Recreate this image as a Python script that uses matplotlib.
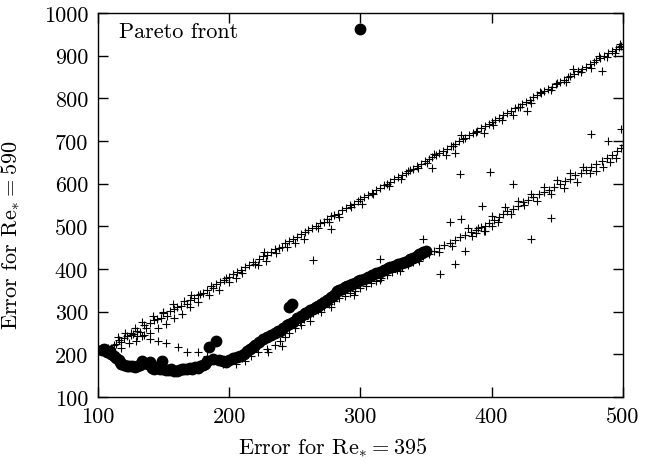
import numpy as np
import matplotlib
matplotlib.use("Agg")
import matplotlib.pyplot as plt
from matplotlib.lines import Line2D

plt.rcParams['font.family'] = 'serif'
plt.rcParams['font.serif'] = ['cmr10']
plt.rcParams['mathtext.fontset'] = 'cm'
plt.rcParams['axes.unicode_minus'] = False
plt.rcParams['font.size'] = 16

# population members (+), upper branch
upper_x = [104, 106, 108, 110, 112, 114, 116, 118, 120, 122, 125, 127, 130, 132, 135, 137, 140, 143, 145, 148,
           150, 153, 155, 158, 160, 163, 166, 168, 170, 173, 176, 178, 180, 183, 186, 188, 190, 193, 196, 198,
           200, 203, 206, 209, 212, 215, 218, 220, 223, 226, 229, 232, 235, 238, 240, 243, 246, 249, 252, 255,
           258, 260, 263, 266, 269, 272, 275, 278, 280, 283, 286, 289, 292, 295, 298, 300, 303, 306, 309, 312,
           315, 318, 320, 323, 326, 329, 332, 335, 338, 340, 343, 346, 349, 352, 355, 358, 360, 363, 366, 369,
           372, 375, 378, 380, 383, 386, 389, 392, 395, 398, 400, 403, 406, 409, 412, 415, 418, 420, 423, 426,
           429, 432, 435, 438, 440, 443, 446, 449, 452, 455, 458, 460, 463, 466, 469, 472, 475, 478, 480, 483,
           486, 489, 492, 495, 497, 499]
upper_y = [210, 207, 215, 216, 222, 225, 234, 228, 238, 243, 246, 248, 256, 252, 268, 262, 273, 280, 283, 286,
           296, 290, 301, 307, 310, 313, 324, 318, 327, 333, 339, 342, 345, 350, 360, 355, 364, 369, 375, 378,
           382, 389, 393, 398, 404, 410, 416, 412, 424, 430, 433, 440, 446, 450, 452, 460, 466, 470, 474, 482,
           487, 491, 496, 501, 507, 510, 518, 524, 527, 530, 538, 543, 549, 552, 560, 563, 568, 574, 579, 585,
           590, 596, 599, 605, 610, 615, 621, 626, 632, 635, 641, 646, 652, 657, 663, 668, 672, 677, 682, 688,
           693, 699, 704, 708, 713, 719, 724, 730, 735, 740, 744, 749, 755, 760, 766, 771, 777, 780, 786, 791,
           796, 802, 807, 813, 816, 822, 827, 833, 838, 844, 849, 853, 858, 863, 869, 874, 880, 885, 889, 894,
           900, 905, 911, 916, 920, 923]

# population members (+), scatter around the upper branch
spread_x = [112, 118, 124, 129, 135, 140, 146, 152, 158, 164, 170, 176, 115, 121, 128, 134, 142, 150, 157, 171,
            185, 192, 200, 205, 210, 222, 228, 236, 244, 250, 257, 268, 276, 284, 293, 301, 310, 322, 331, 336,
            344, 351, 356, 365, 371, 377, 388, 394, 401, 408, 416, 422, 430, 437, 445, 450, 457, 462, 468, 476,
            482, 488, 494, 498, 500, 484, 427, 372, 355, 227, 278]
spread_y = [205, 215, 226, 232, 245, 250, 262, 272, 285, 295, 310, 322, 240, 250, 262, 275, 290, 300, 318, 340,
            340, 350, 370, 378, 390, 410, 420, 438, 452, 462, 470, 495, 510, 522, 545, 552, 575, 595, 612, 630,
            636, 648, 670, 668, 688, 715, 720, 718, 738, 748, 760, 780, 790, 815, 820, 835, 838, 868, 862, 872,
            898, 896, 905, 928, 915, 864, 770, 672, 637, 440, 494]

# population members (+), lower branch
lower_x = [125, 130, 134, 140, 146, 152, 161, 168, 176, 183, 190, 196, 200, 205, 210, 217, 222, 229, 235, 239,
           243, 246, 250, 254, 257, 260, 264, 268, 272, 276, 280, 284, 288, 292, 296, 300, 304, 308, 312, 316,
           320, 324, 328, 332, 336, 340, 344, 348, 352, 356, 360, 364, 368, 372, 376, 380, 384, 388, 390, 392,
           395, 398, 402, 406, 409, 412, 416, 420, 424, 428, 432, 436, 440, 444, 448, 452, 456, 460, 464, 468,
           472, 476, 480, 484, 488, 492, 496, 499,
           230, 240, 255, 262, 270, 278, 295, 315, 330, 345, 360, 370, 385, 395, 400, 405, 415, 425, 435, 445,
           455, 465, 475, 485, 495, 500, 490, 480, 470, 460, 450, 440, 430, 420, 410, 400, 388, 382, 394,
           185, 195, 205, 212]
lower_y = [250, 243, 243, 236, 232, 226, 218, 206, 206, 197, 190, 188, 185, 186, 192, 197, 205, 213, 222, 231,
           240, 250, 262, 275, 282, 292, 298, 303, 310, 318, 325, 332, 336, 343, 348, 355, 360, 368, 373, 380,
           386, 392, 398, 405, 410, 417, 424, 430, 436, 443, 450, 456, 462, 468, 474, 480, 486, 492, 495, 498,
           502, 508, 515, 522, 530, 535, 541, 548, 556, 562, 568, 575, 580, 586, 593, 600, 606, 612, 620, 626,
           632, 638, 645, 652, 660, 668, 676, 684,
           205, 220, 270, 278, 300, 312, 340, 375, 395, 420, 440, 455, 478, 490, 500, 510, 530, 550, 560, 575,
           590, 605, 625, 640, 660, 690, 650, 630, 640, 625, 608, 592, 575, 560, 545, 525, 485, 495, 488,
           185, 178, 178, 185]

# isolated members between the branches
stray_x = [264, 315, 348, 361, 372, 368, 377, 393, 380, 376, 399, 416, 476, 489, 499, 430, 445]
stray_y = [421, 423, 470, 388, 412, 510, 517, 548, 442, 623, 628, 599, 716, 700, 728, 470, 520]

# Pareto front
pareto_x = [103, 105, 107, 109, 110, 112, 114, 116, 117, 118, 120, 122, 124, 126, 128, 130, 132, 134, 136, 138,
            140, 141, 143, 145, 147, 149, 150, 152, 154, 156, 158, 160, 162, 164, 166, 168, 170, 172, 174, 176,
            178, 180, 182, 183, 185, 190, 188, 192, 195, 198, 200, 203, 206, 208, 211, 214, 216, 218, 220, 223,
            226, 229, 232, 235, 237, 239, 241, 244, 246, 249, 246, 248, 252, 255, 258, 260, 262, 264, 266, 268,
            270, 272, 275, 278, 280, 282, 284, 286, 288, 290, 292, 294, 296, 298, 300, 303, 306, 309, 312, 315,
            318, 321, 323, 326, 329, 332, 334, 336, 338, 340, 343, 345, 347, 348, 350]
pareto_y = [210, 212, 205, 208, 200, 196, 192, 186, 182, 178, 176, 174, 172, 173, 170, 172, 176, 184, 180, 178,
            182, 168, 166, 170, 165, 184, 166, 164, 163, 166, 162, 161, 164, 166, 165, 166, 168, 167, 170, 169,
            172, 175, 178, 184, 217, 231, 190, 186, 184, 182, 188, 192, 195, 196, 200, 208, 212, 217, 222, 228,
            235, 241, 246, 250, 254, 255, 262, 268, 271, 276, 311, 318, 285, 290, 296, 300, 305, 306, 310, 314,
            318, 322, 328, 334, 340, 348, 350, 354, 357, 360, 363, 366, 368, 372, 374, 377, 381, 386, 390, 393,
            398, 402, 405, 407, 411, 414, 416, 420, 424, 427, 431, 435, 438, 440, 442]

fig = plt.figure(figsize=(6.48, 4.64), dpi=100)
ax = fig.add_axes([0.151, 0.142, 0.81, 0.828])

plus_kw = dict(linestyle='none', marker='+', markersize=5.2, markeredgewidth=0.8, color='black')
ax.plot(upper_x, upper_y, **plus_kw)
ax.plot(spread_x, spread_y, **plus_kw)
ax.plot(lower_x, lower_y, **plus_kw)
ax.plot(stray_x, stray_y, **plus_kw)
ax.plot(pareto_x, pareto_y, linestyle='none', marker='o', markersize=7.5, color='black')

ax.set_xlim(100, 500)
ax.set_ylim(100, 1000)
ax.set_xticks([100, 200, 300, 400, 500])
ax.set_yticks(np.arange(100, 1001, 100))
ax.tick_params(direction='in', top=True, right=True, length=7, width=1, pad=7)
for s in ax.spines.values():
    s.set_linewidth(1.0)

ax.set_xlabel(r'Error for $\mathrm{Re}_{*} = 395$')
ax.set_ylabel(r'Error for $\mathrm{Re}_{*} = 590$')
ax.xaxis.set_label_coords(0.448, -0.098)
ax.yaxis.set_label_coords(-0.145, 0.424)

handle = Line2D([], [], linestyle='none', marker='o', markersize=7.5, color='black')
ax.legend([handle], ['Pareto front'], loc='center left', bbox_to_anchor=(0.04, 0.953),
          frameon=False, markerfirst=False, handlelength=1.0, handletextpad=5.0,
          borderpad=0, borderaxespad=0, fontsize=16)

fig.savefig('out.png', dpi=100)
